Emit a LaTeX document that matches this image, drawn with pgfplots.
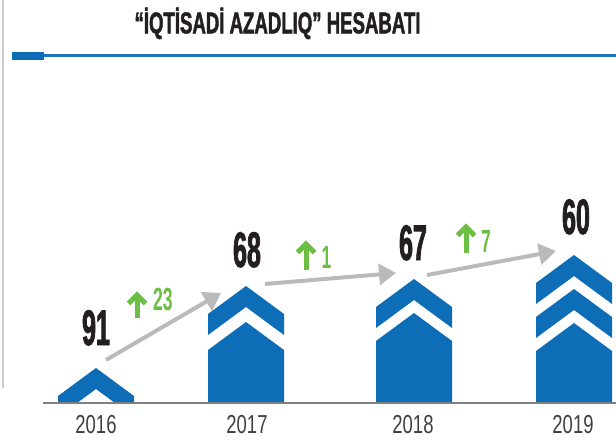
\documentclass[border=0pt]{standalone}
\usepackage{pgfplots}
\pgfplotsset{compat=1.18}
\usetikzlibrary{arrows.meta}
\usepackage{fontspec}
\setmainfont{Liberation Sans}
\newfontfamily\titlefont{Liberation Sans}[FakeStretch=0.62, FakeBold=1.5]
\newfontfamily\valfont{Liberation Sans}[FakeStretch=0.5, FakeBold=1.5]
\newfontfamily\yearfont{Liberation Sans}[FakeStretch=0.71]
\newfontfamily\grnfont{Liberation Sans}[FakeStretch=0.55]
\definecolor{barblue}{HTML}{0E6DB7}
\definecolor{lineblue}{HTML}{1C75BC}
\definecolor{arrgrey}{HTML}{B9BABC}
\definecolor{upgreen}{HTML}{6DBE45}
\definecolor{txtblack}{HTML}{231F20}
\definecolor{yeargrey}{HTML}{3F3F3F}
\begin{document}
\begin{tikzpicture}
\begin{axis}[
  width=616pt, height=441pt, scale only axis,
  xmin=0, xmax=616, ymin=0, ymax=441, y dir=reverse,
  hide axis, clip=false,
]
\coordinate (tl) at (axis cs:0,0);
\coordinate (br) at (axis cs:616,441);
% left frame line
\addplot[color=black!20, line width=1.5pt] coordinates {(3,0) (3,388)};
% title rule
\addplot[color=lineblue, line width=3pt] coordinates {(44,55.5) (616,55.5)};
\addplot[color=barblue, line width=8pt] coordinates {(12,56) (44,56)};
% 2016 chevron (clipped at baseline)
\addplot[fill=barblue, draw=none] coordinates {(58,403) (58,396) (96,368) (134,396) (134,403) (115,403) (96,389) (77,403)} -- cycle;
% 2017
\addplot[fill=barblue, draw=none] coordinates {(208,314) (246,286) (284,314) (284,335) (246,307) (208,335)} -- cycle;
\addplot[fill=barblue, draw=none] coordinates {(208,350) (246,322) (284,350) (284,403) (208,403)} -- cycle;
% 2018
\addplot[fill=barblue, draw=none] coordinates {(376,307) (414,279) (452,307) (452,328) (414,300) (376,328)} -- cycle;
\addplot[fill=barblue, draw=none] coordinates {(376,341) (414,313) (452,341) (452,403) (376,403)} -- cycle;
% 2019
\addplot[fill=barblue, draw=none] coordinates {(536,283) (574,255) (612,283) (612,304) (574,276) (536,304)} -- cycle;
\addplot[fill=barblue, draw=none] coordinates {(536,317) (574,289) (612,317) (612,338) (574,310) (536,338)} -- cycle;
\addplot[fill=barblue, draw=none] coordinates {(536,351) (574,323) (612,351) (612,403) (536,403)} -- cycle;
% baseline
\addplot[color=black!50, line width=1.5pt] coordinates {(43,403) (616,403)};
% grey trend arrows
\addplot[color=arrgrey, line width=4pt, -{Triangle[length=17pt,width=21pt]}] coordinates {(106,360) (221,293)};
\addplot[color=arrgrey, line width=4pt, -{Triangle[length=17pt,width=21pt]}] coordinates {(265,284) (396,273)};
\addplot[color=arrgrey, line width=4pt, -{Triangle[length=17pt,width=21pt]}] coordinates {(427,275) (556,251)};
% green up arrows
\addplot[color=upgreen, line width=5pt, line join=miter] coordinates {(128.5,303.5) (137,295) (145.5,303.5)};
\addplot[color=upgreen, line width=5pt] coordinates {(137,296) (137,318)};
\addplot[color=upgreen, line width=5pt, line join=miter] coordinates {(297.5,252.5) (306,244) (314.5,252.5)};
\addplot[color=upgreen, line width=5pt] coordinates {(306,245) (306,270)};
\addplot[color=upgreen, line width=5pt, line join=miter] coordinates {(457.5,235.5) (466,227) (474.5,235.5)};
\addplot[color=upgreen, line width=5pt] coordinates {(466,228) (466,253)};
% green change values
\addplot[draw=none, mark=none, nodes near coords, point meta=explicit symbolic,
  nodes near coords style={anchor=base, inner sep=0pt, font=\grnfont\bfseries\fontsize{32}{32}\selectfont, text=upgreen}]
  coordinates {(163,310) [23] (326.5,268) [1] (486,252) [7]};
% rank values
\addplot[draw=none, mark=none, nodes near coords, point meta=explicit symbolic,
  nodes near coords style={anchor=base, inner sep=0pt, font=\valfont\bfseries\fontsize{50}{50}\selectfont, text=txtblack}]
  coordinates {(96,345) [91] (247,267) [68] (413,260) [67] (576,234) [60]};
% year labels
\addplot[draw=none, mark=none, nodes near coords, point meta=explicit symbolic,
  nodes near coords style={anchor=base, inner sep=0pt, font=\yearfont\fontsize{26}{26}\selectfont, text=yeargrey}]
  coordinates {(96,433) [2016] (247,433) [2017] (413,433) [2018] (573,433) [2019]};
% title
\node[anchor=base, inner sep=0pt, text=txtblack, font=\titlefont\bfseries\fontsize{30}{30}\selectfont] at (axis cs:277.5,33.3) {“İQTİSADİ AZADLIQ” HESABATI};
\end{axis}
\pgfresetboundingbox
\path[use as bounding box] (tl) rectangle (br);
\end{tikzpicture}
\end{document}
